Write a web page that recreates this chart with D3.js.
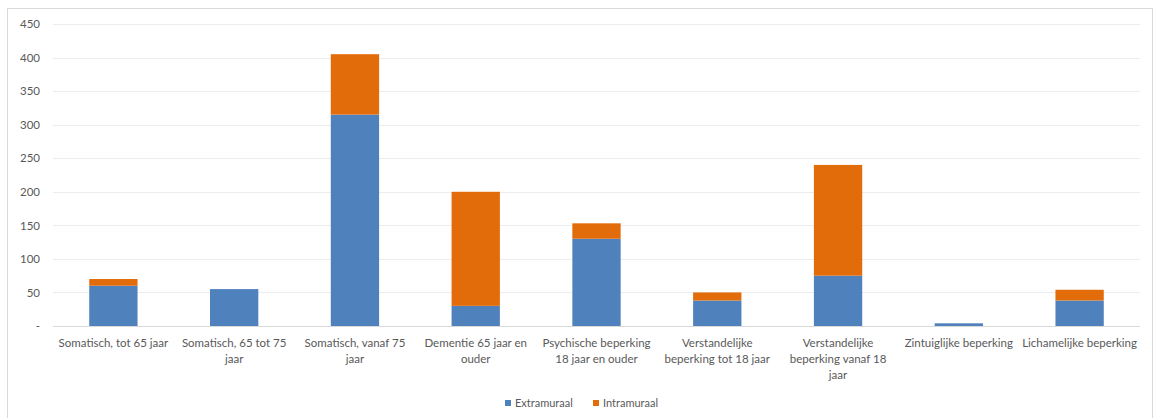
<!DOCTYPE html>
<html>
<head>
<meta charset="utf-8">
<script src="https://cdn.jsdelivr.net/npm/d3@7"></script>
<style>
  body { margin: 0; background: #fff; }
  svg { font-family: Lato, "Open Sans", sans-serif; }
</style>
</head>
<body>
<svg id="chart" width="1155" height="418"></svg>
<script>
// categories, one array of label lines per bar
const categories = [
  "Somatisch, tot 65 jaar",
  "Somatisch, 65 tot 75 jaar",
  "Somatisch, vanaf 75 jaar",
  "Dementie 65 jaar en ouder",
  "Psychische beperking 18 jaar en ouder",
  "Verstandelijke beperking tot 18 jaar",
  "Verstandelijke beperking vanaf 18 jaar",
  "Zintuiglijke beperking",
  "Lichamelijke beperking"
];
const labelLines = [
  ["Somatisch, tot 65 jaar"],
  ["Somatisch, 65 tot 75", "jaar"],
  ["Somatisch, vanaf 75", "jaar"],
  ["Dementie 65 jaar en", "ouder"],
  ["Psychische beperking", "18 jaar en ouder"],
  ["Verstandelijke", "beperking tot 18 jaar"],
  ["Verstandelijke", "beperking vanaf 18", "jaar"],
  ["Zintuiglijke beperking"],
  ["Lichamelijke beperking"]
];
const extramuraal = [60, 55, 315, 30, 130, 38, 75, 4, 38];
const intramuraal = [10, 0, 90, 170, 23, 12, 165, 0, 16];
const seriesNames = ["Extramuraal", "Intramuraal"];
const yTicks = [0, 50, 100, 150, 200, 250, 300, 350, 400, 450];

const colors = { Extramuraal: "#4f81bd", Intramuraal: "#e36c0a" };

const svg = d3.select("#chart");

// outer frame like the spreadsheet chart area
svg.append("rect")
  .attr("x", 7.5).attr("y", 8.5)
  .attr("width", 1145).attr("height", 410)
  .attr("fill", "#fff").attr("stroke", "#d9d9d9");

const margin = { left: 53, right: 1140, top: 24, bottom: 326 };

const x = d3.scaleBand()
  .domain(categories)
  .range([margin.left, margin.right])
  .paddingInner(0.6)
  .paddingOuter(0.3);

const y = d3.scaleLinear()
  .domain([0, 450])
  .range([margin.bottom, margin.top]);

// gridlines
svg.append("g")
  .selectAll("line")
  .data(yTicks)
  .join("line")
  .attr("x1", margin.left).attr("x2", margin.right)
  .attr("y1", d => Math.round(y(d)) + 0.5).attr("y2", d => Math.round(y(d)) + 0.5)
  .attr("stroke", d => d === 0 ? "#d9d9d9" : "#ececec");

// y axis labels
const yAxis = d3.axisLeft(y)
  .tickValues(yTicks)
  .tickSize(0)
  .tickPadding(0)
  .tickFormat(d => d === 0 ? "-" : d);

svg.append("g")
  .attr("transform", `translate(40,0)`)
  .call(yAxis)
  .call(g => g.select(".domain").remove())
  .call(g => g.selectAll("text")
    .attr("fill", "#595959")
    .attr("font-size", "11.5px")
    .attr("font-family", "Lato, sans-serif"));

// stack the two series
const rows = categories.map((c, i) => ({
  cat: c,
  Extramuraal: extramuraal[i],
  Intramuraal: intramuraal[i]
}));
const stacked = d3.stack().keys(seriesNames)(rows);

svg.append("g")
  .selectAll("g")
  .data(stacked)
  .join("g")
  .attr("fill", d => colors[d.key])
  .selectAll("rect")
  .data(d => d)
  .join("rect")
  .attr("x", d => x(d.data.cat))
  .attr("width", x.bandwidth())
  .attr("y", d => y(d[1]))
  .attr("height", d => y(d[0]) - y(d[1]));

// category labels
const catG = svg.append("g")
  .selectAll("text")
  .data(categories)
  .join("text")
  .attr("x", d => x(d) + x.bandwidth() / 2)
  .attr("y", 347)
  .attr("text-anchor", "middle")
  .attr("fill", "#595959")
  .attr("font-size", "11.5px");

catG.each(function(d, i) {
  d3.select(this).selectAll("tspan")
    .data(labelLines[i])
    .join("tspan")
    .attr("x", x(d) + x.bandwidth() / 2)
    .attr("dy", (l, j) => j === 0 ? 0 : 16)
    .text(l => l);
});

// legend
const legend = svg.append("g")
  .selectAll("g")
  .data(seriesNames)
  .join("g")
  .attr("transform", (d, i) => `translate(${i === 0 ? 505 : 593},403)`);

legend.append("rect")
  .attr("x", 0).attr("y", -3)
  .attr("width", 6).attr("height", 6)
  .attr("fill", d => colors[d]);

legend.append("text")
  .attr("x", 10).attr("y", 4)
  .attr("fill", "#595959")
  .attr("font-size", "11px")
  .text(d => d);
</script>
</body>
</html>
